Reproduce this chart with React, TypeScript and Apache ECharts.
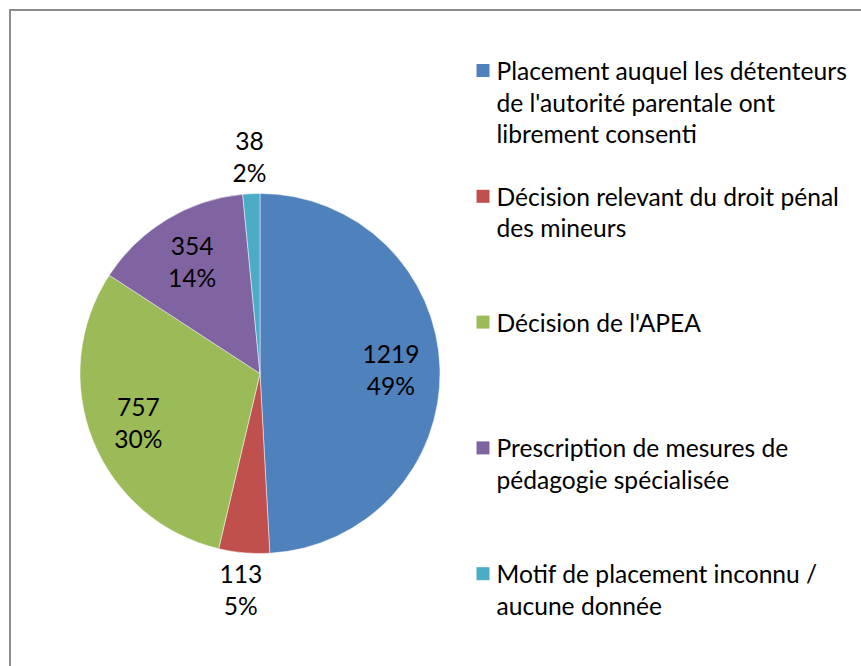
import React, { useEffect, useRef } from "react";
import * as echarts from "echarts";

const CATEGORIES = [
  "Placement auquel les détenteurs de l'autorité parentale ont librement consenti",
  "Décision relevant du droit pénal des mineurs",
  "Décision de l'APEA",
  "Prescription de mesures de pédagogie spécialisée",
  "Motif de placement inconnu / aucune donnée",
];
const LEGEND_LINES = [
  ["Placement auquel les détenteurs", "de l'autorité parentale ont", "librement consenti"],
  ["Décision relevant du droit pénal", "des mineurs"],
  ["Décision de l'APEA"],
  ["Prescription de mesures de", "pédagogie spécialisée"],
  ["Motif de placement inconnu /", "aucune donnée"],
];
const VALUES = [1219, 113, 757, 354, 38];
const COLORS = ["#4F81BD", "#C0504D", "#9BBB59", "#8064A2", "#4BACC6"];
const INSIDE_LABEL = [true, false, true, true, false];

const FONT = "Lato";
const FS = 24.6;
const LH = 31.5;

export default function App() {
  const ref = useRef<HTMLDivElement>(null);
  useEffect(() => {
    if (!ref.current) return;
    const chart = echarts.init(ref.current, null, { renderer: "svg" });
    const rich: any = {
      g: { width: 7, lineHeight: LH },
      i: { width: 20, lineHeight: LH },
      t: { fontFamily: FONT, fontSize: FS, color: "#000", lineHeight: LH },
    };
    COLORS.forEach((c, k) => {
      rich["s" + k] = { width: 13, height: 13, backgroundColor: c };
    });
    const legends = CATEGORIES.map((name, k) => ({
      data: [name],
      orient: "vertical",
      left: 470.5,
      top: 58 + k * 125.8,
      padding: 0,
      itemWidth: 0,
      itemHeight: 0,
      selectedMode: false,
      formatter: (n: string) => {
        const idx = CATEGORIES.indexOf(n);
        const lines = LEGEND_LINES[idx];
        return lines
          .map((l, j) => (j === 0 ? `{s${idx}|}{g|}{t|${l}}` : `{i|}{t|${l}}`))
          .join("\n");
      },
      textStyle: { rich },
    }));
    const base = {
      type: "pie",
      center: [260, 373.5],
      startAngle: 90,
      clockwise: true,
      percentPrecision: 0,
      avoidLabelOverlap: false,
      labelLine: { show: false },
    };
    const labelStyle = {
      position: "inside",
      rotate: 0,
      formatter: "{c}\n{d}%",
      fontFamily: FONT,
      fontSize: FS,
      color: "#000",
      lineHeight: 32,
    };
    chart.setOption({
      animation: false,
      legend: legends,
      graphic: [
        {
          type: "rect",
          shape: { x: 10, y: 10, width: 900, height: 700 },
          style: { fill: "none", stroke: "#8c8c8c", lineWidth: 2 },
          silent: true,
        },
      ],
      series: [
        {
          ...base,
          radius: [0, 180],
          label: { show: false },
          itemStyle: { borderColor: "rgba(255,255,255,0.6)", borderWidth: 0.8 },
          data: CATEGORIES.map((n, k) => ({
            name: n,
            value: VALUES[k],
            itemStyle: { color: COLORS[k] },
          })),
        },
        {
          ...base,
          radius: [76, 180],
          silent: true,
          itemStyle: { color: "rgba(0,0,0,0)" },
          label: labelStyle,
          data: CATEGORIES.map((n, k) => ({
            name: n,
            value: VALUES[k],
            label: { show: INSIDE_LABEL[k] },
          })),
        },
        {
          ...base,
          radius: [180, 248],
          silent: true,
          itemStyle: { color: "rgba(0,0,0,0)" },
          label: labelStyle,
          data: CATEGORIES.map((n, k) => ({
            name: n,
            value: VALUES[k],
            label: { show: !INSIDE_LABEL[k] },
          })),
        },
      ],
    });
    return () => chart.dispose();
  }, []);
  return (
    <div
      ref={ref}
      style={{ position: "absolute", left: 0, top: 0, width: 861, height: 666, background: "#fff" }}
    />
  );
}
